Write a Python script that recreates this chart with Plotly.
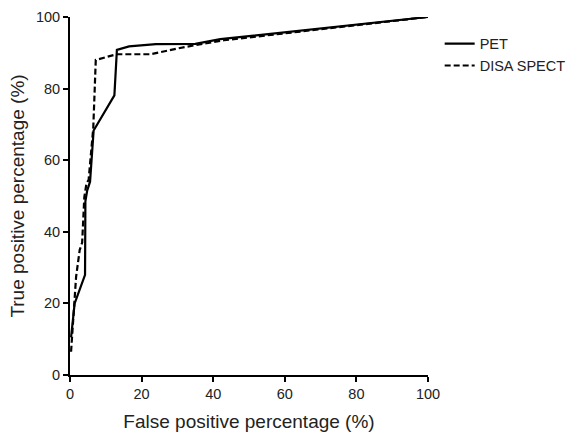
import plotly.graph_objects as go

# PET ROC curve
pet_fpr = [0.3, 1.3, 4.2, 4.3, 4.8, 5.6, 6.6, 12.4, 13.1, 16.5, 24, 35, 42, 100]
pet_tpr = [10.5, 20, 28, 48.5, 51.5, 54, 68.3, 78.1, 90.8, 91.8, 92.4, 92.5, 93.8, 100]

# DISA SPECT ROC curve
disa_fpr = [0.3, 0.8, 1.7, 2.7, 3.4, 4.0, 4.6, 5.2, 5.9, 6.5, 7.2, 13, 22.5, 32, 43, 100]
disa_tpr = [6.5, 15, 27.4, 34.9, 37, 49.7, 53.5, 54.5, 62, 69, 88, 89.6, 89.6, 91.6, 93.5, 100]

tick_vals = [0, 20, 40, 60, 80, 100]

FONT = "Liberation Sans, Arial, sans-serif"

fig = go.Figure()
fig.add_trace(go.Scatter(x=pet_fpr, y=pet_tpr, mode="lines", name="PET",
                         line=dict(color="black", width=2.2)))
fig.add_trace(go.Scatter(x=disa_fpr, y=disa_tpr, mode="lines", name="DISA SPECT",
                         line=dict(color="black", width=2.2, dash="6px,3px")))

axis_common = dict(
    range=[0, 100], tickvals=tick_vals, showline=True, linecolor="black", linewidth=2,
    ticks="outside", ticklen=5, tickwidth=2, tickcolor="black", showgrid=False,
    zeroline=False, automargin=False,
    tickfont=dict(family=FONT, size=14.5, color="#222"),
    title_font=dict(family=FONT, size=19, color="#222"),
)

fig.update_layout(
    width=577, height=433,
    margin=dict(l=69.5, r=149, t=17, b=58),
    paper_bgcolor="white", plot_bgcolor="white",
    font=dict(family=FONT, color="#222"),
    xaxis=dict(title=dict(text="False positive percentage (%)", standoff=13), **axis_common),
    yaxis=dict(title=dict(text="True positive percentage (%)", standoff=6), **axis_common),
    legend=dict(xref="container", yref="container", x=0.762, y=0.936,
                xanchor="left", yanchor="top",
                font=dict(family=FONT, size=14.5, color="#222"),
                bgcolor="rgba(0,0,0,0)", tracegroupgap=0),
    showlegend=True,
)

fig.write_html("out.html",
               config={"displayModeBar": False},
               post_script="document.body.style.margin='0';document.body.style.overflow='hidden';")
